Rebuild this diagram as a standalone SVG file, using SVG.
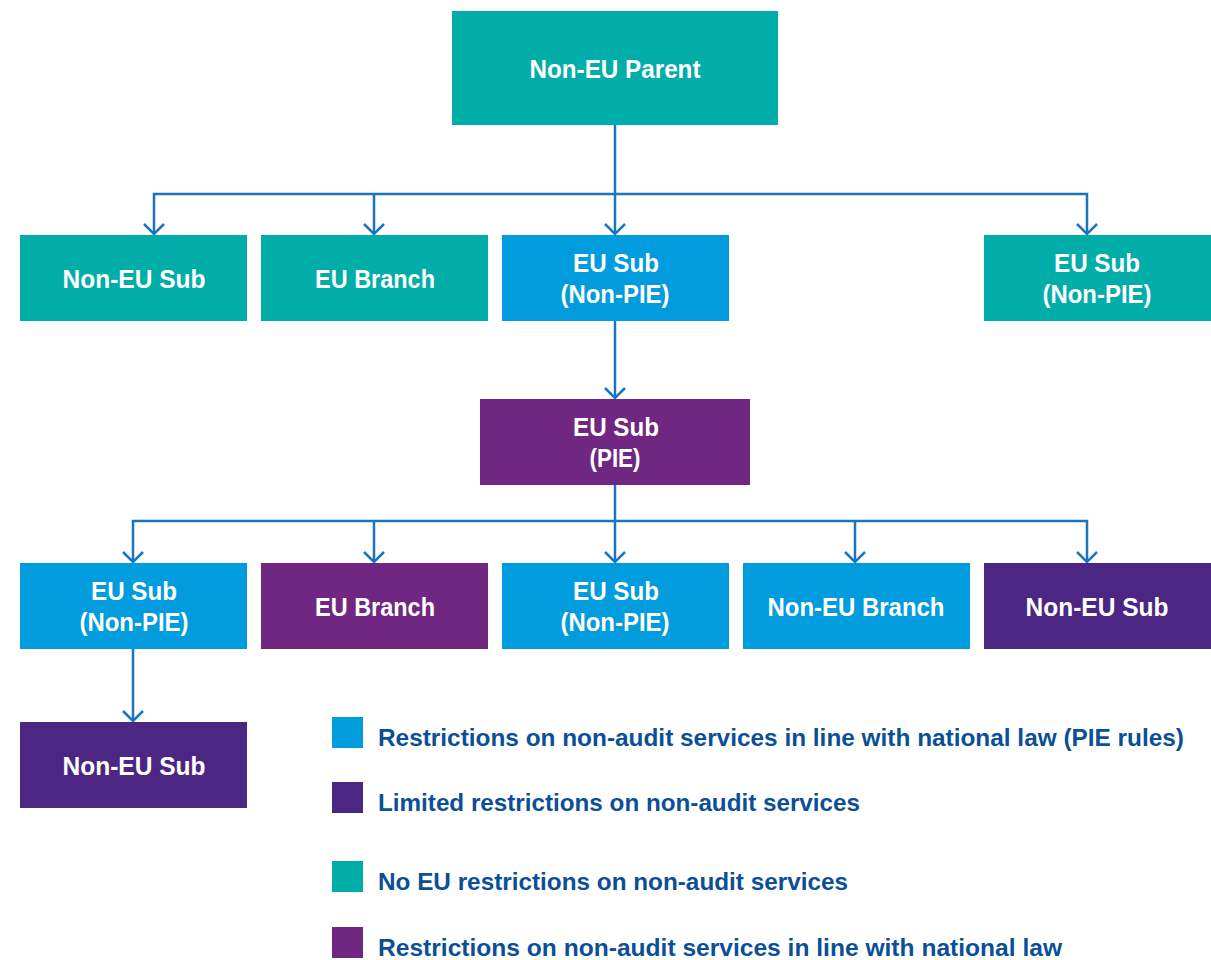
<svg xmlns="http://www.w3.org/2000/svg" width="1211" height="960" viewBox="0 0 1211 960">
<defs>
<style>
.n text{font-family:"Liberation Sans",Arial,sans-serif;font-weight:bold;font-size:25px;fill:#fff;text-anchor:middle}
.teal{fill:#00ADA8}.blue{fill:#009CDE}.pur{fill:#702782}.dpur{fill:#4B2783}
.lg text{font-family:"Liberation Sans",Arial,sans-serif;font-weight:bold;font-size:24px;fill:#0B4F96}
.c{stroke:#1A74BE;stroke-width:2.5;fill:none}
</style>
<path id="ah" d="M-10,-11 L0,-1 L10,-11" fill="none" stroke="#1A74BE" stroke-width="2.5"/>
</defs>
<rect width="1211" height="960" fill="#fff"/>
<g id="connectors" class="c">
<path d="M615,125 V194"/>
<path d="M154,234 V194 H1087 V234"/>
<path d="M374,194 V234"/>
<path d="M615,194 V234"/>
<path d="M615,321 V398"/>
<path d="M615,485 V521"/>
<path d="M133,562 V521 H1087 V562"/>
<path d="M374,521 V562"/>
<path d="M615,521 V562"/>
<path d="M855,521 V562"/>
<path d="M133,649 V721"/>
<use href="#ah" x="154" y="235"/>
<use href="#ah" x="374" y="235"/>
<use href="#ah" x="615" y="235"/>
<use href="#ah" x="1087" y="235"/>
<use href="#ah" x="615" y="399"/>
<use href="#ah" x="133" y="563"/>
<use href="#ah" x="374" y="563"/>
<use href="#ah" x="615" y="563"/>
<use href="#ah" x="855" y="563"/>
<use href="#ah" x="1087" y="563"/>
<use href="#ah" x="133" y="722"/>
</g>
<g id="parent" class="n"><rect class="teal" x="452" y="11" width="326" height="114"/><text x="615" y="78" textLength="171" lengthAdjust="spacingAndGlyphs">Non-EU Parent</text></g>
<g id="r1a" class="n"><rect class="teal" x="20" y="235" width="227" height="86"/><text x="134" y="288" textLength="143" lengthAdjust="spacingAndGlyphs">Non-EU Sub</text></g>
<g id="r1b" class="n"><rect class="teal" x="261" y="235" width="227" height="86"/><text x="375" y="288" textLength="120" lengthAdjust="spacingAndGlyphs">EU Branch</text></g>
<g id="r1c" class="n"><rect class="blue" x="502" y="235" width="227" height="86"/><text x="616" y="272" textLength="86" lengthAdjust="spacingAndGlyphs">EU Sub</text><text x="615" y="303" textLength="109" lengthAdjust="spacingAndGlyphs">(Non-PIE)</text></g>
<g id="r1d" class="n"><rect class="teal" x="984" y="235" width="227" height="86"/><text x="1097" y="272" textLength="86" lengthAdjust="spacingAndGlyphs">EU Sub</text><text x="1097" y="303" textLength="109" lengthAdjust="spacingAndGlyphs">(Non-PIE)</text></g>
<g id="pie" class="n"><rect class="pur" x="480" y="399" width="270" height="86"/><text x="616" y="436" textLength="86" lengthAdjust="spacingAndGlyphs">EU Sub</text><text x="615" y="467" textLength="51" lengthAdjust="spacingAndGlyphs">(PIE)</text></g>
<g id="r3a" class="n"><rect class="blue" x="20" y="563" width="227" height="86"/><text x="134" y="600" textLength="86" lengthAdjust="spacingAndGlyphs">EU Sub</text><text x="134" y="631" textLength="109" lengthAdjust="spacingAndGlyphs">(Non-PIE)</text></g>
<g id="r3b" class="n"><rect class="pur" x="261" y="563" width="227" height="86"/><text x="375" y="616" textLength="120" lengthAdjust="spacingAndGlyphs">EU Branch</text></g>
<g id="r3c" class="n"><rect class="blue" x="502" y="563" width="227" height="86"/><text x="616" y="600" textLength="86" lengthAdjust="spacingAndGlyphs">EU Sub</text><text x="615" y="631" textLength="109" lengthAdjust="spacingAndGlyphs">(Non-PIE)</text></g>
<g id="r3d" class="n"><rect class="blue" x="743" y="563" width="227" height="86"/><text x="856" y="616" textLength="177" lengthAdjust="spacingAndGlyphs">Non-EU Branch</text></g>
<g id="r3e" class="n"><rect class="dpur" x="984" y="563" width="227" height="86"/><text x="1097" y="616" textLength="143" lengthAdjust="spacingAndGlyphs">Non-EU Sub</text></g>
<g id="r4" class="n"><rect class="dpur" x="20" y="722" width="227" height="86"/><text x="134" y="775" textLength="143" lengthAdjust="spacingAndGlyphs">Non-EU Sub</text></g>
<g id="legend" class="lg">
<rect class="blue" x="332" y="717" width="31" height="31"/><text x="378" y="746" textLength="806" lengthAdjust="spacingAndGlyphs">Restrictions on non-audit services in line with national law (PIE rules)</text>
<rect class="dpur" x="332" y="782" width="31" height="31"/><text x="378" y="811" textLength="482" lengthAdjust="spacingAndGlyphs">Limited restrictions on non-audit services</text>
<rect class="teal" x="332" y="861" width="31" height="31"/><text x="378" y="890" textLength="470" lengthAdjust="spacingAndGlyphs">No EU restrictions on non-audit services</text>
<rect class="pur" x="332" y="927" width="31" height="31"/><text x="378" y="956" textLength="684" lengthAdjust="spacingAndGlyphs">Restrictions on non-audit services in line with national law</text>
</g>
</svg>
